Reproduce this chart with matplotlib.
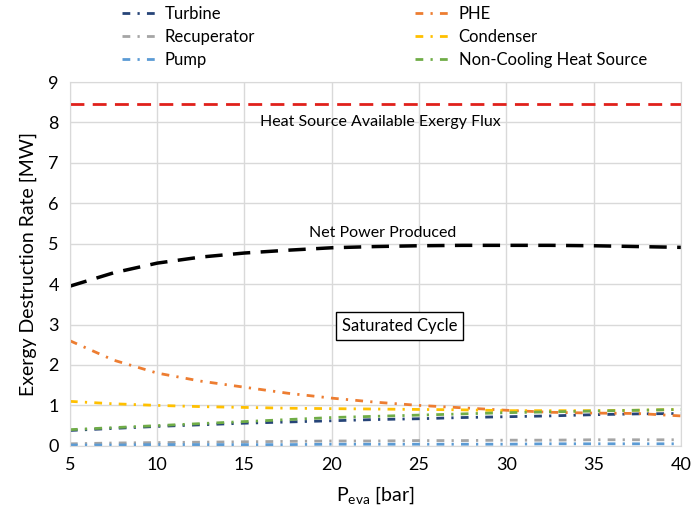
import matplotlib
matplotlib.use("Agg")
import matplotlib.pyplot as plt

# evaporator pressure [bar]
p_eva = [5, 7.5, 10, 12.5, 15, 17.5, 20, 22.5, 25, 27.5, 30, 32.5, 35, 37.5, 40]

heat_source = [8.45] * len(p_eva)
net_power = [3.95, 4.28, 4.52, 4.67, 4.77, 4.84, 4.90, 4.93, 4.95, 4.96, 4.96, 4.96, 4.95, 4.93, 4.91]

turbine = [0.38, 0.43, 0.48, 0.52, 0.56, 0.59, 0.62, 0.65, 0.67, 0.70, 0.72, 0.74, 0.77, 0.79, 0.80]
phe = [2.60, 2.12, 1.80, 1.60, 1.45, 1.30, 1.18, 1.08, 1.00, 0.94, 0.88, 0.83, 0.81, 0.80, 0.74]
recuperator = [0.05, 0.07, 0.08, 0.09, 0.10, 0.11, 0.12, 0.12, 0.13, 0.13, 0.14, 0.14, 0.15, 0.15, 0.15]
condenser = [1.10, 1.04, 1.00, 0.97, 0.95, 0.93, 0.92, 0.91, 0.90, 0.89, 0.87, 0.87, 0.87, 0.88, 0.90]
pump = [0.02, 0.02, 0.03, 0.03, 0.03, 0.03, 0.04, 0.04, 0.04, 0.04, 0.04, 0.05, 0.05, 0.05, 0.05]
non_cooling = [0.40, 0.45, 0.50, 0.55, 0.60, 0.65, 0.70, 0.73, 0.76, 0.79, 0.82, 0.84, 0.86, 0.88, 0.90]

plt.rcParams['font.family'] = ['Lato', 'DejaVu Sans']

fig = plt.figure(figsize=(6.99, 5.16), dpi=100)
ax = fig.add_axes([0.100, 0.136, 0.874, 0.705])

dd = (0, (2.8, 2.6, 0.8, 2.6))
# plotted in legend order (column-major: left column first)
ax.plot(p_eva, turbine, color='#264478', lw=2, ls=dd, label='Turbine')
ax.plot(p_eva, recuperator, color='#A5A5A5', lw=2, ls=dd, label='Recuperator')
ax.plot(p_eva, pump, color='#5B9BD5', lw=2, ls=dd, label='Pump')
ax.plot(p_eva, phe, color='#ED7D31', lw=2, ls=dd, label='PHE')
ax.plot(p_eva, condenser, color='#FFC000', lw=2, ls=dd, label='Condenser')
ax.plot(p_eva, non_cooling, color='#70AD47', lw=2, ls=dd, label='Non-Cooling Heat Source')

ax.plot(p_eva, heat_source, color='#E0201B', lw=2, ls=(0, (5, 3)))
ax.plot(p_eva, net_power, color='black', lw=2.5, ls=(0, (5, 3)))

ax.text(22.8, 8.02, 'Heat Source Available Exergy Flux', ha='center', va='center', fontsize=11.5)
ax.text(22.9, 5.27, 'Net Power Produced', ha='center', va='center', fontsize=11.5)
ax.text(23.9, 2.96, 'Saturated Cycle', ha='center', va='center', fontsize=12,
        bbox=dict(boxstyle='square,pad=0.35', fc='white', ec='black', lw=1))

ax.set_xlim(5, 40)
ax.set_ylim(0, 9)
ax.set_xticks(range(5, 41, 5))
ax.set_yticks(range(0, 10))
ax.tick_params(labelsize=13, length=0, pad=8)
ax.grid(True, color='#D9D9D9', lw=1)
ax.set_axisbelow(True)
for s in ax.spines.values():
    s.set_color('#D9D9D9')

ax.set_xlabel('P$_{\\mathregular{eva}}$ [bar]', fontsize=14, labelpad=8)
ax.set_ylabel('Exergy Destruction Rate [MW]', fontsize=14, labelpad=8)

fig.legend(*ax.get_legend_handles_labels(), loc='upper left',
           bbox_to_anchor=(115 / 699, 1 + 1 / 516), ncol=2, frameon=False,
           fontsize=12, columnspacing=9.6, handlelength=2.0, handletextpad=0.6,
           labelspacing=0.42, borderaxespad=0)

fig.savefig('out.png', dpi=100)
